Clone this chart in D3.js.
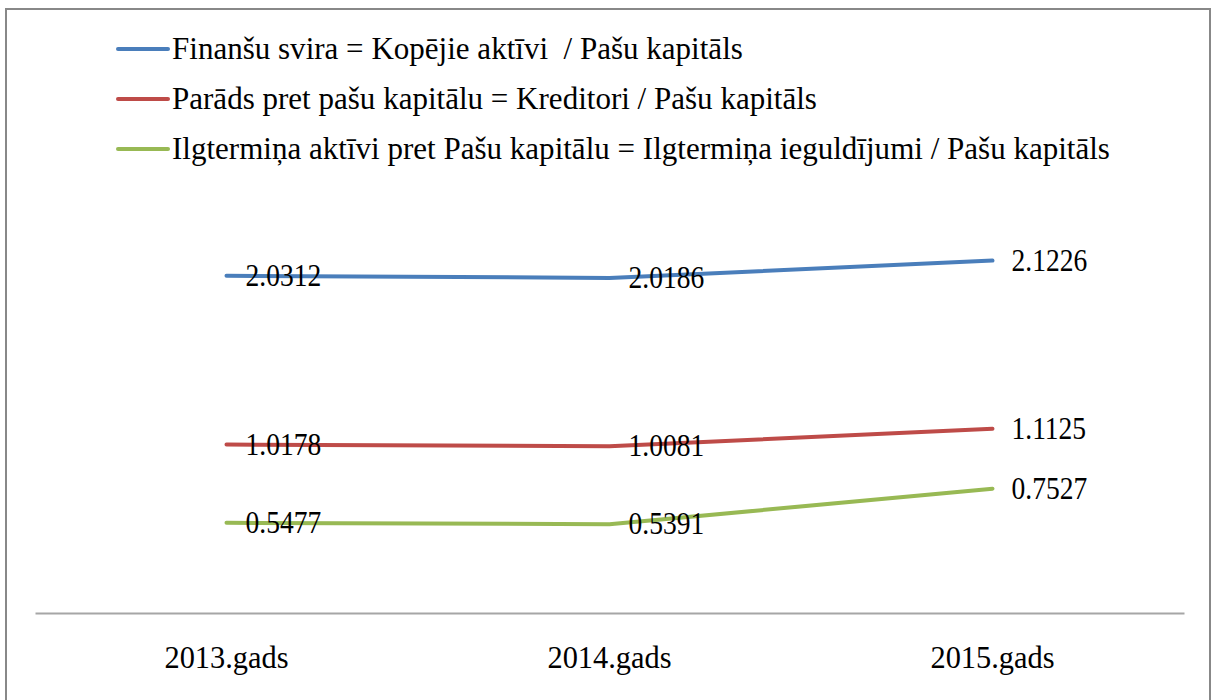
<!DOCTYPE html>
<html>
<head>
<meta charset="utf-8">
<script src="https://cdn.jsdelivr.net/npm/d3@7"></script>
<style>
  body { margin: 0; background: #fff; }
</style>
</head>
<body>
<div id="chartContainer"></div>
<script>
// data
var years = ["2013.gads", "2014.gads", "2015.gads"]
var seriesNames = [
  "Finanšu svira = Kopējie aktīvi  / Pašu kapitāls",
  "Parāds pret pašu kapitālu = Kreditori / Pašu kapitāls",
  "Ilgtermiņa aktīvi pret Pašu kapitālu = Ilgtermiņa ieguldījumi / Pašu kapitāls"
]
var finansuSvira = [2.0312, 2.0186, 2.1226]
var paradsPret = [1.0178, 1.0081, 1.1125]
var ilgtermina = [0.5477, 0.5391, 0.7527]
var colors = ["#4a7ebb", "#be4b48", "#98b954"]

var FONT = "'Liberation Serif', 'Times New Roman', serif"

var series = [finansuSvira, paradsPret, ilgtermina].map(function(vals, i) {
  return { name: seriesNames[i], color: colors[i], values: vals.map(function(v, j) { return { year: years[j], value: v } }) }
})

var width = 1212, height = 700
var svg = d3.select("#chartContainer").append("svg")
  .attr("width", width)
  .attr("height", height)

// outer border
svg.append("rect")
  .attr("x", 6).attr("y", 9)
  .attr("width", 1204).attr("height", 700)
  .attr("fill", "none")
  .attr("stroke", "#888")
  .attr("stroke-width", 2)

var x = d3.scaleBand().domain(years).range([35, 1184])
var y = d3.scaleLinear().domain([0, 3]).range([614, 114.5])

// x axis
var xAxis = svg.append("g")
  .attr("transform", "translate(0,613)")
  .attr("font-family", FONT)
  .call(d3.axisBottom(x).tickSize(0).tickPadding(0))
xAxis.select(".domain").attr("stroke", "#a6a6a6").attr("stroke-width", 2)
xAxis.selectAll(".tick text")
  .attr("y", 0).attr("dy", null)
  .style("font-family", FONT)
  .style("font-size", "32px")
  .attr("fill", "#000")
  .attr("transform", "translate(0,55) scale(0.95,1)")

var line = d3.line()
  .x(function(d) { return x(d.year) + x.bandwidth() / 2 })
  .y(function(d) { return y(d.value) })

svg.selectAll(".series")
  .data(series)
  .enter()
  .append("path")
  .attr("d", function(d) { return line(d.values) })
  .attr("fill", "none")
  .attr("stroke", function(d) { return d.color })
  .attr("stroke-width", 4)
  .attr("stroke-linecap", "round")

// value labels
series.forEach(function(s) {
  svg.selectAll(null)
    .data(s.values)
    .enter()
    .append("text")
    .style("font-family", FONT)
    .style("font-size", "32px")
    .attr("transform", function(d) {
      return "translate(" + (x(d.year) + x.bandwidth() / 2 + 19) + "," + (y(d.value) + 10) + ") scale(0.86,1)"
    })
    .text(function(d) { return d.value.toFixed(4) })
})

// legend
var legend = svg.selectAll(".legend")
  .data(series)
  .enter()
  .append("g")
  .attr("transform", function(d, i) { return "translate(0," + (49 + i * 50) + ")" })
legend.append("line")
  .attr("x1", 118).attr("x2", 168)
  .attr("stroke", function(d) { return d.color })
  .attr("stroke-width", 4)
  .attr("stroke-linecap", "round")
legend.append("text")
  .style("font-family", FONT)
  .style("font-size", "32px")
  .style("white-space", "pre")
  .attr("transform", "translate(172,10) scale(0.97,1)")
  .text(function(d) { return d.name })
</script>
</body>
</html>
